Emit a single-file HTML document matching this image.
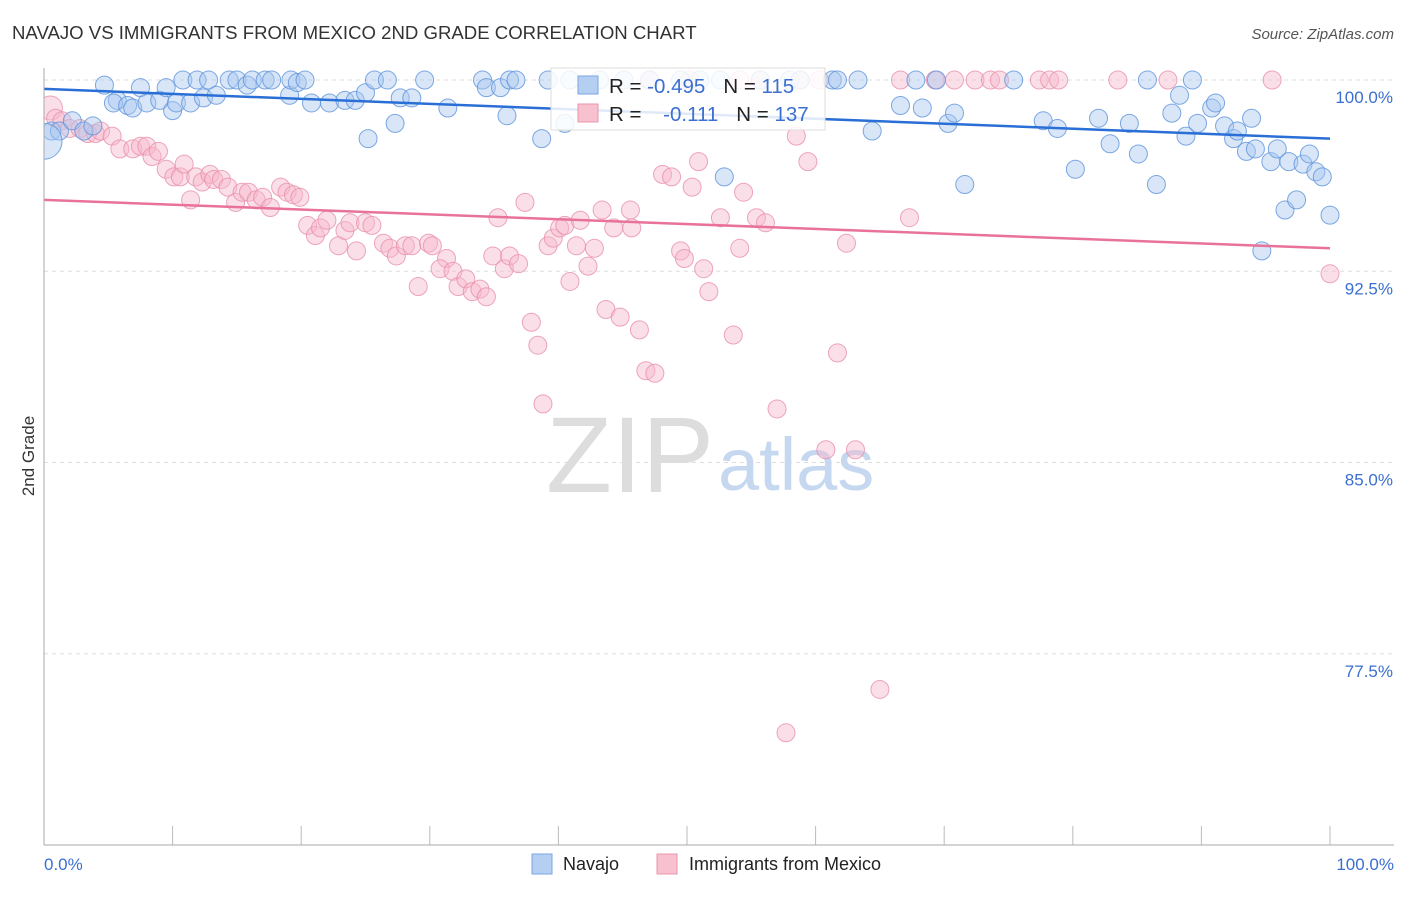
<!DOCTYPE html>
<html><head><meta charset="utf-8"><style>
body{margin:0;background:#fff;font-family:"Liberation Sans",sans-serif;}
svg text{font-family:"Liberation Sans",sans-serif;}
</style></head><body>
<svg id="chart" width="1406" height="892">
<defs><clipPath id="plotclip"><rect x="44" y="50" width="1360" height="795"/></clipPath></defs>
<text x="12" y="39" font-size="18.6" fill="#333">NAVAJO VS IMMIGRANTS FROM MEXICO 2ND GRADE CORRELATION CHART</text>
<text x="1394" y="39" font-size="15" fill="#555" text-anchor="end" font-style="italic">Source: ZipAtlas.com</text>
<text x="34" y="456" font-size="17" fill="#333" text-anchor="middle" transform="rotate(-90 34 456)">2nd Grade</text>
<g id="grid"></g>
<g id="yticks"></g>
<g id="xticks"></g>
<text x="714" y="492" font-size="108" fill="#ddd" text-anchor="end" font-family="Liberation Serif">ZIP</text>
<text x="718" y="490" font-size="74" fill="#c5d8f0">atlas</text>
<g clip-path="url(#plotclip)">
<g id="pinkpts"></g>
<g id="bluepts"></g>
</g>
<g id="lines"></g>
<line x1="44" y1="68" x2="44" y2="845" stroke="#aaa"/>
<line x1="44" y1="845" x2="1394" y2="845" stroke="#aaa"/>
<text x="44" y="870" font-size="17" fill="#3b6fd0">0.0%</text>
<text x="1394" y="870" font-size="17" fill="#3b6fd0" text-anchor="end">100.0%</text>
<g>
<rect x="551" y="68" width="274" height="62" fill="#fff" fill-opacity="0.85" stroke="#ddd"/>
<rect x="578" y="76" width="20" height="18" fill="#b5cff2" stroke="#7aa6e0"/>
<text x="609" y="93" font-size="20.5" fill="#222">R = <tspan fill="#3b6fd0">-0.495</tspan><tspan dx="18">N = </tspan><tspan fill="#3b6fd0">115</tspan></text>
<rect x="578" y="104" width="20" height="18" fill="#f7c1d0" stroke="#e896ad"/>
<text x="609" y="121" font-size="20.5" fill="#222">R = <tspan fill="#3b6fd0" dx="16">-0.111</tspan><tspan dx="18">N = </tspan><tspan fill="#3b6fd0">137</tspan></text>
</g>
<g>
<rect x="532" y="854" width="20" height="20" fill="#b5cff2" stroke="#7aa6e0"/>
<text x="563" y="870" font-size="18" fill="#222">Navajo</text>
<rect x="657" y="854" width="20" height="20" fill="#f7c1d0" stroke="#e896ad"/>
<text x="689" y="870" font-size="18" fill="#222">Immigrants from Mexico</text>
</g>
</svg>
<script>
const yTicks=[100,92.5,85,77.5];
const xTickVals=[0,10,20,30,40,50,60,70,80,90,100];
const blueX=[4.7,5.7,7.5,5.4,6.5,6.9,8.0,9.0,9.5,10.0,10.3,10.8,11.4,11.9,12.4,12.8,13.4,14.4,15.0,15.8,16.2,17.2,17.7,19.1,19.2,19.7,20.3,20.8,22.2,23.4,24.2,25.0,25.2,25.7,26.7,27.3,27.7,28.6,29.6,31.4,34.1,34.4,35.5,36.0,36.2,36.7,38.7,39.2,40.5,40.9,43.2,45.1,47.1,49.5,51.0,52.6,52.9,55.7,58.0,58.8,61.3,61.7,63.3,64.4,66.6,67.8,68.3,69.4,70.3,70.8,71.6,75.4,77.7,78.8,80.2,82.0,82.9,84.4,85.1,85.8,86.5,87.7,88.3,88.8,89.3,89.7,90.8,91.1,91.8,92.5,92.8,93.5,93.9,94.2,94.7,95.4,95.9,96.5,96.8,97.4,97.9,98.4,98.9,99.4,100,0.6,1.2,2.2,3.1,3.8];
const blueY=[99.8,99.2,99.7,99.1,99.0,98.9,99.1,99.2,99.7,98.8,99.1,100,99.1,100,99.3,100,99.4,100,100,99.8,100,100,100,99.4,100,99.9,100,99.1,99.1,99.2,99.2,99.5,97.7,100,100,98.3,99.3,99.3,100,98.9,100,99.7,99.7,98.6,100,100,97.7,100,98.3,100,100,100,100,100,100,100,96.2,100,100,100,100,100,100,98.0,99.0,100,98.9,100,98.3,98.7,95.9,100,98.4,98.1,96.5,98.5,97.5,98.3,97.1,100,95.9,98.7,99.4,97.8,100,98.3,98.9,99.1,98.2,97.7,98.0,97.2,98.5,97.3,93.3,96.8,97.3,94.9,96.8,95.3,96.7,97.1,96.4,96.2,94.7,98.0,98.0,98.4,98.0,98.2];
const pinkX=[0.5,0.9,1.4,2.0,2.8,3.4,4.0,4.4,5.3,5.9,6.9,7.5,8.0,8.4,8.9,9.5,10.1,10.6,10.9,11.4,11.8,12.3,12.9,13.2,13.8,14.3,14.9,15.4,15.9,16.5,17.0,17.6,18.4,18.9,19.4,19.9,20.5,21.1,21.5,22.0,22.9,23.4,23.8,24.3,25.0,25.5,26.4,26.9,27.4,28.1,28.6,29.1,29.9,30.2,31.3,30.8,31.8,32.2,32.8,33.3,33.9,34.4,34.9,35.3,35.8,36.2,36.9,37.4,37.9,38.4,38.8,39.2,39.6,40.1,40.5,40.9,41.4,41.7,42.3,42.8,43.4,43.7,44.3,44.8,45.6,45.7,46.3,46.8,47.5,48.1,48.8,49.5,49.8,50.4,50.9,51.3,51.7,52.6,53.6,54.1,54.4,55.4,56.1,57.0,57.7,58.5,59.4,60.8,61.7,62.4,63.1,65.0,67.3,47.1,50.2,54.1,55.7,58.8,60.3,66.6,69.3,70.8,72.4,73.6,74.3,77.4,78.2,78.9,83.5,87.4,95.5,100];
const pinkY=[98.9,98.5,98.4,98.1,98.1,97.9,97.9,98.0,97.8,97.3,97.3,97.4,97.4,97.0,97.2,96.5,96.2,96.2,96.7,95.3,96.2,96.0,96.3,96.1,96.1,95.8,95.2,95.6,95.6,95.3,95.4,95.0,95.8,95.6,95.5,95.4,94.3,93.9,94.2,94.5,93.5,94.1,94.4,93.3,94.4,94.3,93.6,93.4,93.1,93.5,93.5,91.9,93.6,93.5,93.0,92.6,92.5,91.9,92.2,91.7,91.8,91.5,93.1,94.6,92.6,93.1,92.8,95.2,90.5,89.6,87.3,93.5,93.8,94.2,94.3,92.1,93.5,94.5,92.7,93.4,94.9,91.0,94.2,90.7,94.9,94.2,90.2,88.6,88.5,96.3,96.2,93.3,93.0,95.8,96.8,92.6,91.7,94.6,90.0,93.4,95.6,94.6,94.4,87.1,74.4,97.8,96.8,85.5,89.3,93.6,85.5,76.1,94.6,100,100,100,100,100,100,100,100,100,100,100,100,100,100,100,100,100,100,92.4];
const blueTrend=[99.65,97.7];
const pinkTrend=[95.3,93.4];
const NS='http://www.w3.org/2000/svg';
const X=v=>44+v*12.86;
const Y=v=>80+(100-v)*25.5;
function mk(tag,attrs,parent){const e=document.createElementNS(NS,tag);for(const k in attrs)e.setAttribute(k,attrs[k]);parent.appendChild(e);return e;}
const grid=document.getElementById('grid'),yt=document.getElementById('yticks'),xt=document.getElementById('xticks');
yTicks.forEach(v=>{
  const l=mk('line',{x1:44,x2:1394,y1:Y(v),y2:Y(v),stroke:'#ddd','stroke-dasharray':'4 4'},grid);
  
  
  const t=mk('text',{x:1393,y:Y(v)+23,'font-size':17,fill:'#3b6fd0','text-anchor':'end'},yt);
  t.textContent=v.toFixed(1)+'%';
  
  
});
xTickVals.forEach(v=>{
  const l=mk('line',{x1:X(v),x2:X(v),y1:826,y2:845,stroke:'#bbb'},xt);
  
  
});
const pp=document.getElementById('pinkpts');
pinkX.forEach((x,i)=>{
  const c=mk('circle',{cx:X(x),cy:Y(pinkY[i]),r:i===0?12:9,fill:'#f7b9cb','fill-opacity':0.45,stroke:'#e990aa','stroke-opacity':0.8},pp);
  
  
});
const bp=document.getElementById('bluepts');
blueX.forEach((x,i)=>{
  const c=mk('circle',{cx:X(x),cy:Y(blueY[i]),r:9,fill:'#a9c8f0','fill-opacity':0.45,stroke:'#5e93dc','stroke-opacity':0.8},bp);
  
  
});
const big=mk('circle',{cx:X(0),cy:Y(97.6),r:18,fill:'#a9c8f0','fill-opacity':0.45,stroke:'#5e93dc','stroke-opacity':0.8},bp);


const ln=document.getElementById('lines');
const bl=mk('line',{x1:X(0),y1:Y(blueTrend[0]),x2:X(100),y2:Y(blueTrend[1]),stroke:'#2a6fd6','stroke-width':2.5},ln);


const pl=mk('line',{x1:X(0),y1:Y(pinkTrend[0]),x2:X(100),y2:Y(pinkTrend[1]),stroke:'#e8729a','stroke-width':2.5},ln);


</script>
</body></html>
